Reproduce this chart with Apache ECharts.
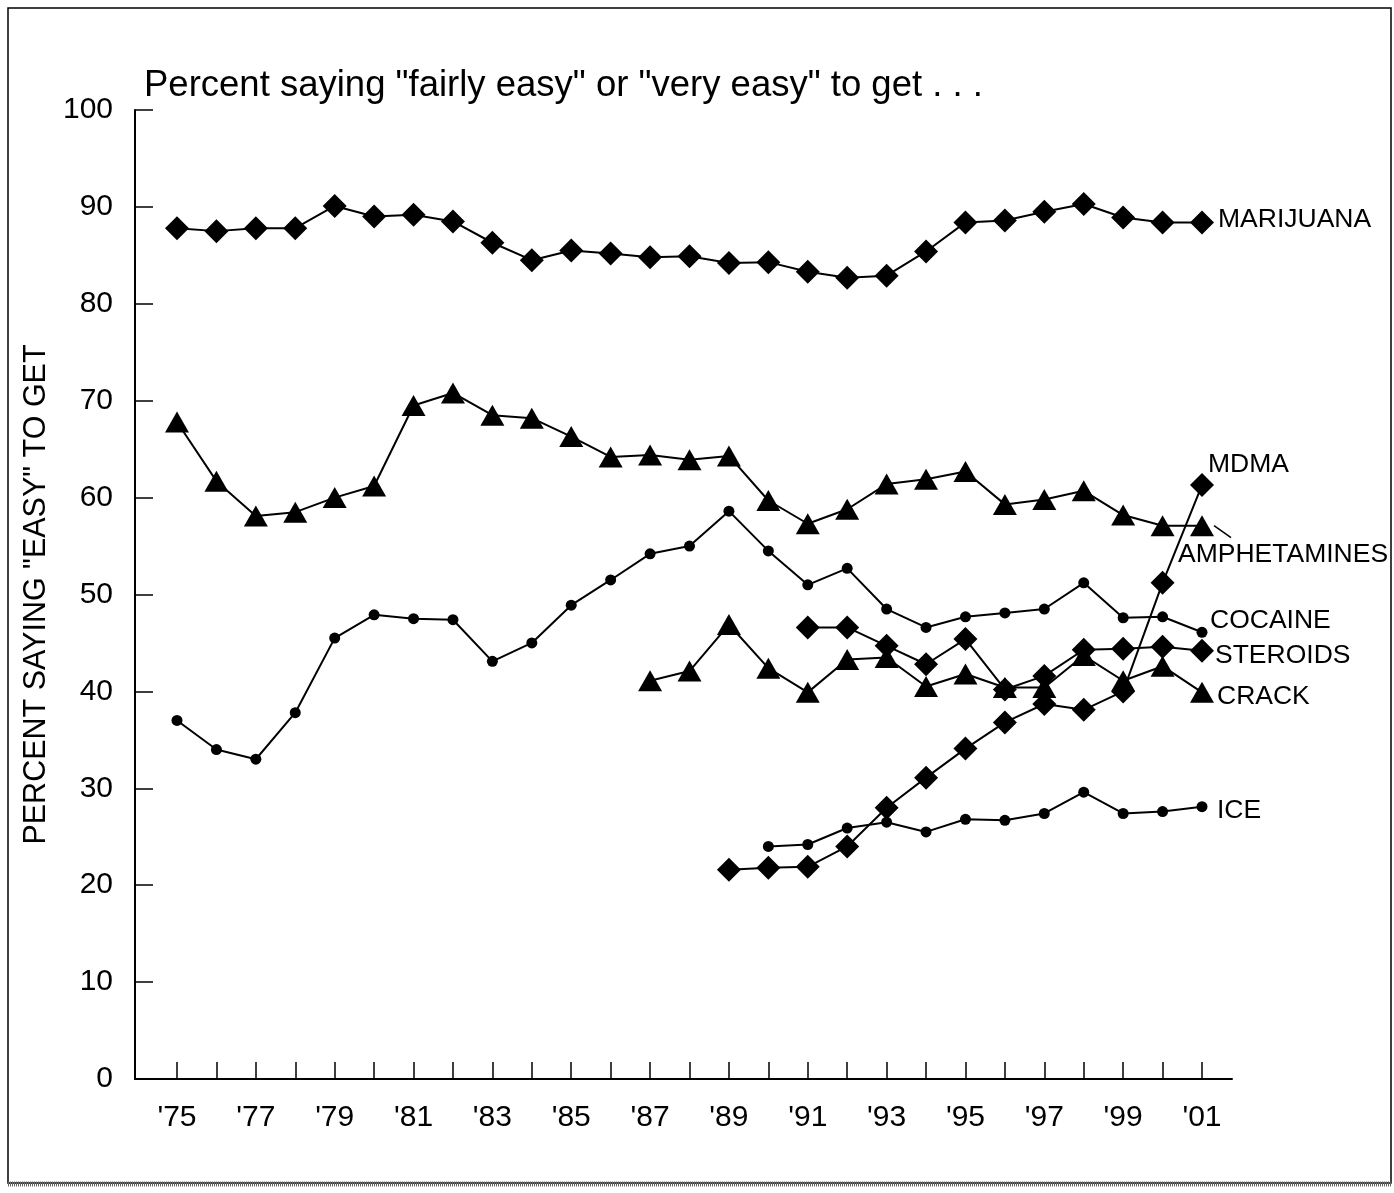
<!DOCTYPE html>
<html><head><meta charset="utf-8">
<script src="https://cdn.jsdelivr.net/npm/echarts@6/dist/echarts.min.js"></script>
<style>html,body{margin:0;padding:0;background:#fff}#c{width:1394px;height:1193px}</style>
</head><body><div id="c"></div>
<script>
const years = [1975,1976,1977,1978,1979,1980,1981,1982,1983,1984,1985,1986,1987,1988,1989,1990,1991,1992,1993,1994,1995,1996,1997,1998,1999,2000,2001];
const marijuana = [87.8,87.5,87.8,87.8,90.1,89.0,89.2,88.5,86.3,84.5,85.5,85.2,84.8,84.9,84.2,84.3,83.3,82.7,82.9,85.4,88.4,88.6,89.5,90.3,88.9,88.4,88.4];
const amphetamines = [67.8,61.7,58.1,58.5,60.0,61.2,69.5,70.8,68.5,68.2,66.3,64.2,64.4,63.9,64.3,59.7,57.3,58.8,61.4,61.9,62.7,59.3,59.8,60.7,58.2,57.1,57.1];
const cocaine = [37.0,34.0,33.0,37.8,45.5,47.9,47.5,47.4,43.1,45.0,48.9,51.5,54.2,55.0,58.6,54.5,51.0,52.7,48.5,46.6,47.7,48.1,48.5,51.2,47.6,47.7,46.1];
const crackYears = [1987,1988,1989,1990,1991,1992,1993,1994,1995,1996,1997,1998,1999,2000,2001];
const crack = [41.1,42.1,46.9,42.4,39.9,43.3,43.5,40.5,41.8,40.4,40.4,43.7,41.1,42.6,39.9];
const steroidYears = [1991,1992,1993,1994,1995,1996,1997,1998,1999,2000,2001];
const steroids = [46.6,46.6,44.7,42.8,45.4,40.2,41.6,44.3,44.4,44.6,44.2];
const mdmaYears = [1989,1990,1991,1992,1993,1994,1995,1996,1997,1998,1999,2000,2001];
const mdma = [21.6,21.8,21.9,24.0,28.0,31.1,34.1,36.8,38.7,38.1,40.0,51.2,61.3];
const iceYears = [1990,1991,1992,1993,1994,1995,1996,1997,1998,1999,2000,2001];
const ice = [24.0,24.2,25.9,26.5,25.5,26.8,26.7,27.4,29.6,27.4,27.6,28.1];
const yTicks = [0,10,20,30,40,50,60,70,80,90,100];
const titleText = 'Percent saying "fairly easy" or "very easy" to get . . .';
const yName = 'PERCENT SAYING "EASY" TO GET';

const FONT = 'Liberation Sans, Arial, Helvetica, sans-serif';
const pairs = (xs, vs) => xs.map((x, i) => [x, vs[i]]);

const DIA = {symbol:'diamond', symbolSize:[24,24]};
const TRI = {symbol:'triangle', symbolSize:[24,21]};
const DOT = {symbol:'circle', symbolSize:11};

const seriesDefs = [
  {name:'MARIJUANA', data:pairs(years, marijuana), m:DIA, lab:{dx:16, dy:-3}},
  {name:'AMPHETAMINES', data:pairs(years, amphetamines), m:TRI, lab:{dx:-24, dy:29}},
  {name:'COCAINE', data:pairs(years, cocaine), m:DOT, lab:{dx:8, dy:-12}},
  {name:'CRACK', data:pairs(crackYears, crack), m:TRI, lab:{dx:15, dy:4}},
  {name:'STEROIDS', data:pairs(steroidYears, steroids), m:DIA, lab:{dx:13, dy:5}},
  {name:'MDMA', data:pairs(mdmaYears, mdma), m:DIA, lab:{dx:6, dy:-20}},
  {name:'ICE', data:pairs(iceYears, ice), m:DOT, lab:{dx:15, dy:4}}
];

const chart = echarts.init(document.getElementById('c'), null, {renderer:'canvas'});
const option = {
  backgroundColor:'#fff',
  animation:false,
  title:{text:titleText, left:139, top:62, textStyle:{fontFamily:FONT, fontSize:36.5, fontWeight:'normal', color:'#000'}},
  grid:[
    {left:177, right:192, top:110, bottom:114},
    {left:135, right:162, top:110, bottom:114}
  ],
  xAxis:[
    {type:'value', gridIndex:0, min:1975, max:2001, interval:1,
     axisLine:{show:false},
     axisTick:{show:true, inside:true, length:17, lineStyle:{color:'#000', width:1.5}},
     axisLabel:{show:true, margin:24, fontFamily:FONT, fontSize:30, color:'#000',
       formatter:v => ((v - 1975) % 2 === 0) ? "'" + String(v).slice(2) : ''},
     splitLine:{show:false}},
    {type:'value', gridIndex:1, min:0, max:1,
     axisLine:{show:true, onZero:false, lineStyle:{color:'#000', width:2}},
     axisTick:{show:false}, axisLabel:{show:false}, splitLine:{show:false}}
  ],
  yAxis:[
    {type:'value', gridIndex:0, min:0, max:100, interval:10, show:false},
    {type:'value', gridIndex:1, min:0, max:100, interval:10,
     axisLine:{show:true, lineStyle:{color:'#000', width:2}},
     axisTick:{show:true, inside:true, length:18, lineStyle:{color:'#000', width:1.5}},
     axisLabel:{margin:22, fontFamily:FONT, fontSize:30, color:'#000'},
     splitLine:{show:false},
     name:yName, nameLocation:'middle', nameGap:82, nameRotate:90,
     nameTextStyle:{fontFamily:FONT, fontSize:30.5, color:'#000'}}
  ],
  series: seriesDefs.map(s => ({
    name:s.name, type:'line', xAxisIndex:0, yAxisIndex:0, data:s.data,
    symbol:s.m.symbol, symbolSize:s.m.symbolSize, showAllSymbol:true,
    itemStyle:{color:'#000'}, lineStyle:{color:'#000', width:2},
    z:3
  }))
};
chart.setOption(option);

// labels anchored to last data points
const gfx = [
  {type:'rect', shape:{x:8, y:8, width:1383, height:1175}, style:{fill:null, stroke:'#000', lineWidth:1.5}, silent:true, z:0},
  {type:'line', shape:{x1:8, y1:1184, x2:1391, y2:1184}, style:{stroke:'#666', lineWidth:5, lineDash:[1,1]}, silent:true}
];
seriesDefs.forEach(s => {
  const last = s.data[s.data.length - 1];
  const p = chart.convertToPixel({xAxisIndex:0, yAxisIndex:0}, last);
  gfx.push({type:'text', x:p[0] + s.lab.dx, y:p[1] + s.lab.dy,
    style:{text:s.name, fill:'#000', font:'26.5px ' + FONT, textVerticalAlign:'middle', textAlign:'left'}, z:10});
  if (s.name === 'AMPHETAMINES') {
    gfx.push({type:'line', shape:{x1:p[0]+12, y1:p[1]+0, x2:p[0]+29, y2:p[1]+12}, style:{stroke:'#000', lineWidth:1.5}, z:10});
  }
});
chart.setOption({graphic:gfx});
</script></body></html>
